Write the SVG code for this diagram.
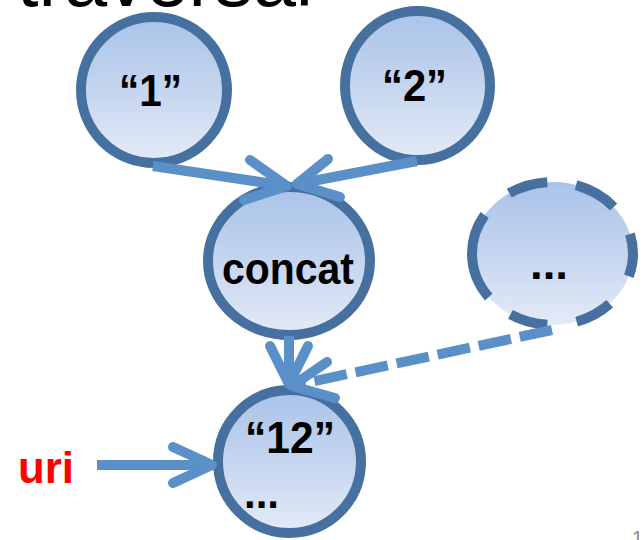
<svg xmlns="http://www.w3.org/2000/svg" width="642" height="540" viewBox="0 0 642 540">
  <defs>
    <linearGradient id="nodeFill" x1="0" y1="0" x2="0" y2="1">
      <stop offset="0" stop-color="#a9c3e8"/>
      <stop offset="0.5" stop-color="#c5d5ef"/>
      <stop offset="1" stop-color="#e4ebf7"/>
    </linearGradient>
    <style>
      .node { fill: url(#nodeFill); stroke: #46709f; stroke-width: 10; }
      .lbl { font-family: "Liberation Sans", Arial, sans-serif; font-weight: bold; font-size: 44px; fill: #000; }
      .edge { fill: none; stroke: #5b8fc7; stroke-width: 10; }
      .head { fill: none; stroke: #5b8fc7; stroke-width: 10; stroke-linecap: round; stroke-linejoin: round; }
    </style>
  </defs>
  <rect width="642" height="540" fill="#ffffff"/>

  <!-- heading, mostly above the visible area -->
  <text x="17" y="6" font-family="Liberation Sans, Arial, sans-serif" font-size="77" textLength="296" lengthAdjust="spacingAndGlyphs" fill="#000">traversal</text>

  <g id="node-1">
    <ellipse class="node" cx="154" cy="90" rx="73" ry="73"/>
    <text class="lbl" x="119" y="106" textLength="63" lengthAdjust="spacingAndGlyphs">“1”</text>
  </g>

  <g id="node-2">
    <ellipse class="node" cx="417.5" cy="85.5" rx="72.5" ry="74.5"/>
    <text class="lbl" x="382" y="101" textLength="65" lengthAdjust="spacingAndGlyphs">“2”</text>
  </g>

  <g id="node-concat">
    <ellipse class="node" cx="289" cy="261" rx="81" ry="74"/>
    <text class="lbl" x="222" y="284" textLength="132" lengthAdjust="spacingAndGlyphs">concat</text>
  </g>

  <g id="node-more">
    <ellipse class="node" cx="552.5" cy="253.5" rx="80.5" ry="71.5" pathLength="360"
             stroke-dasharray="17.6 25.4 28.5 22.5 29 21 67 25 30 22 33 24 15 0"/>
    <text class="lbl" x="530" y="279" textLength="38" lengthAdjust="spacingAndGlyphs">...</text>
  </g>

  <g id="node-12">
    <ellipse class="node" cx="289.5" cy="461.5" rx="71.5" ry="71.5"/>
    <text class="lbl" x="245" y="453" textLength="90" lengthAdjust="spacingAndGlyphs">“12”</text>
    <text class="lbl" x="244" y="508" textLength="35" lengthAdjust="spacingAndGlyphs">...</text>
  </g>

  <g id="label-uri">
    <text class="lbl" x="18" y="483" textLength="56" lengthAdjust="spacingAndGlyphs" style="fill:#ff0000">uri</text>
  </g>

  <g id="connectors">
    <!-- "1" -> concat -->
    <line class="edge" x1="153" y1="166" x2="287" y2="186"/>
    <polyline class="head" points="250,160 287,186 244,200"/>
    <!-- "2" -> concat -->
    <line class="edge" x1="417" y1="161" x2="297" y2="184"/>
    <polyline class="head" points="328,159 297,184 340,197"/>
    <!-- concat -> "12" -->
    <line class="edge" x1="289" y1="336" x2="289" y2="384"/>
    <polyline class="head" points="270,346 289,384 308,346"/>
    <!-- ... -> "12" (dashed) -->
    <line class="edge" x1="552" y1="330" x2="292" y2="386" stroke-dasharray="33 9"/>
    <polyline class="head" points="327,362 292,386 335,398"/>
    <!-- uri -> "12" -->
    <line class="edge" x1="97" y1="465" x2="212" y2="465"/>
    <polyline class="head" points="173,447 212,465 173,483"/>
  </g>

  <!-- page number, running off the bottom edge -->
  <text x="632" y="545" font-family="Liberation Sans, Arial, sans-serif" font-size="20" fill="#8c8c8c">1</text>
</svg>
